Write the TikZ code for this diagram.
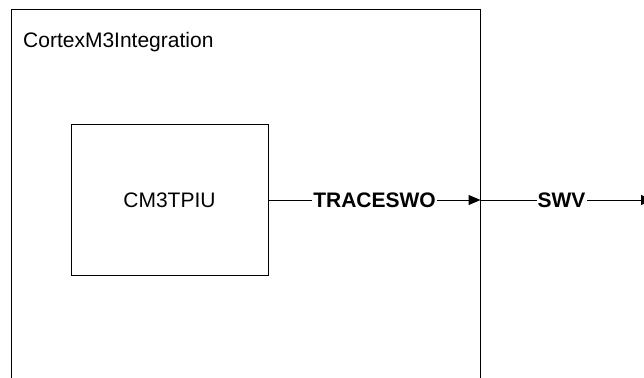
\documentclass[tikz,border=0pt]{standalone}
\usepackage{fontspec}
\setmainfont{Liberation Sans}
\usepackage{tikz}
\usetikzlibrary{arrows.meta,positioning}

\begin{document}
\begin{tikzpicture}[
    x=1pt,y=-1pt,
    container/.style={draw=black, line width=1pt, minimum width=469pt, minimum height=420pt, inner sep=0pt},
    block/.style={draw=black, line width=1pt, minimum width=197pt, minimum height=151pt, inner sep=0pt, font=\fontsize{21}{25}\selectfont},
    caption/.style={inner sep=0pt, font=\fontsize{21}{25}\selectfont},
    sig/.style={-{Triangle[length=12pt, width=10pt]}, draw=black, line width=1pt},
    siglabel/.style={fill=white, inner sep=1pt, font=\fontsize{21}{25}\bfseries\selectfont}
  ]
    \useasboundingbox (0,0) rectangle (644,377);
    \clip (0,0) rectangle (644,377);

    \node[container] (outer) at (245.5,220) {};
    \node[caption, anchor=base west] (title) at (23,48) {CortexM3Integration};
    \node[block] (tpiu) at (169.5,200) {CM3TPIU};

    \coordinate (pin) at (tpiu.east -| outer.east);
    \coordinate (swvend) at (653,200);
    \draw[sig] (tpiu.east) -- node[siglabel] (traceswo) {TRACESWO} (pin);
    \draw[sig] (pin) -- node[siglabel, pos=0.47] (swv) {SWV} (swvend);
\end{tikzpicture}
\end{document}
